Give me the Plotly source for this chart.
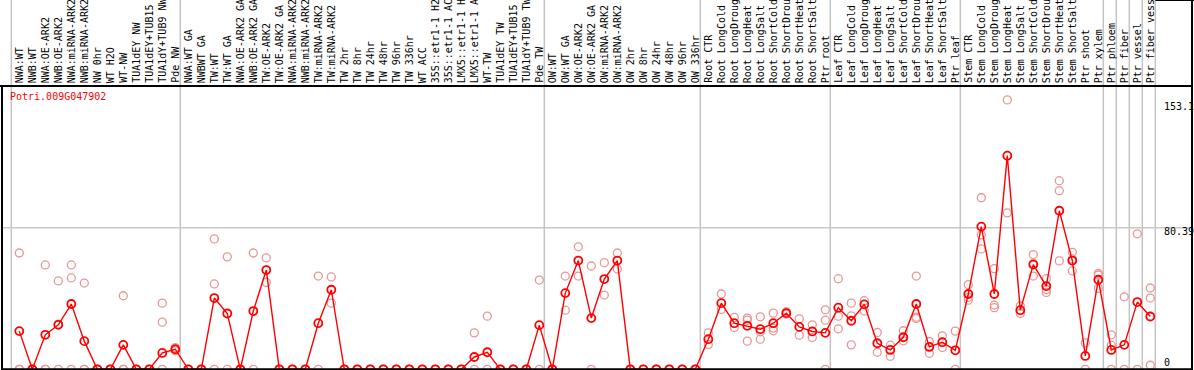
import plotly.graph_objects as go

# ---------------- data ----------------
gene_id = "Potri.009G047902"

categories = [
    "NWA:WT", "NWB:WT", "NWA:OE-ARK2", "NWB:OE-ARK2", "NWA:miRNA-ARK2", "NWB:miRNA-ARK2",
    "NW 0hr", "WT H2O", "WT-NW", "TUA1dEY NW", "TUA1dEY+TUB15 NW", "TUA1dY+TUB9 NW", "Pde NW",
    "NWA:WT GA", "NWBWT GA", "TW:WT", "TW:WT GA", "NWA:OE-ARK2 GA", "NWB:OE-ARK2 GA",
    "TW:OE-ARK2", "TW:OE-ARK2 GA", "NWA:miRNA-ARK2 GA", "NWB:miRNA-ARK2 GA", "TW:miRNA-ARK2",
    "TW:miRNA-ARK2 GA", "TW 2hr", "TW 8hr", "TW 24hr", "TW 48hr", "TW 96hr", "TW 336hr",
    "WT ACC", "35S::etr1-1 H2O", "35S::etr1-1 ACC", "LMX5::etr1-1 H2O", "LMX5::etr1-1 ACC",
    "WT-TW", "TUA1dEY TW", "TUA1dEY+TUB15 TW", "TUA1dY+TUB9 TW", "Pde TW",
    "OW:WT", "OW:WT GA", "OW:OE-ARK2", "OW:OE-ARK2 GA", "OW:miRNA-ARK2", "OW:miRNA-ARK2 GA",
    "OW 2hr", "OW 8hr", "OW 24hr", "OW 48hr", "OW 96hr", "OW 336hr",
    "Root CTR", "Root LongCold", "Root LongDrought", "Root LongHeat", "Root LongSalt",
    "Root ShortCold", "Root ShortDrought", "Root ShortHeat", "Root ShortSalt", "Ptr root",
    "Leaf CTR", "Leaf LongCold", "Leaf LongDrought", "Leaf LongHeat", "Leaf LongSalt",
    "Leaf ShortCold", "Leaf ShortDrought", "Leaf ShortHeat", "Leaf ShortSalt", "Ptr leaf",
    "Stem CTR", "Stem LongCold", "Stem LongDrought", "Stem LongHeat", "Stem LongSalt",
    "Stem ShortCold", "Stem ShortDrought", "Stem ShortHeat", "Stem ShortSalt", "Ptr shoot",
    "Ptr xylem", "Ptr phloem", "Ptr fiber", "Ptr vessel", "Ptr fiber vessel",
]

mean_values = [
    21.7, 0, 19.6, 25.3, 37.1, 16.0, 0, 0, 13.9, 0, 0, 9.3, 11.4,
    0, 0, 40.5, 31.7, 0, 33.1, 56.4, 0, 0, 0, 26.2, 45.2, 0, 0, 0, 0, 0, 0,
    0, 0, 0, 0, 7.0, 9.7, 0, 0, 0, 25.1,
    0, 43.3, 61.8, 29.1, 51.3, 61.8, 0, 0, 0, 0, 0, 0,
    17.1, 37.6, 26.2, 24.7, 22.8, 26.2, 31.9, 24.1, 21.5, 20.7,
    35.0, 27.6, 36.9, 14.8, 11.0, 18.2, 37.1, 12.7, 15.4, 10.8,
    42.8, 81.1, 42.8, 121.4, 33.6, 59.5, 47.3, 90.1, 61.8, 7.6,
    50.9, 11.0, 13.9, 38.2, 30.0,
]

replicate_values = [
    [66.1, 0, 0], [0, 0, 0], [59.3, 0, 0], [50.2, 25.7, 0], [59.3, 51.9, 0], [49.0, 0, 0],
    [0, 0, 0], [0, 0, 0], [41.8, 0, 0], [0, 0, 0], [0, 0, 0], [37.6, 26.8, 0], [12.3, 10.5],
    [0, 0], [0, 0], [74.1, 48.5, 0], [63.9, 0], [0, 0], [66.1, 0], [63.3, 49.4],
    [0, 0], [0, 0], [0, 0], [53.0, 0], [52.5, 37.6], [0, 0], [0, 0], [0, 0], [0, 0], [0, 0], [0, 0],
    [0, 0], [0, 0], [0, 0], [0, 0], [20.7, 0], [30.2, 0], [0, 0], [0, 0], [0, 0], [50.7, 0],
    [0, 0], [53.0, 33.6], [69.6, 53.0], [58.7, 0], [60.6, 42.2], [66.1, 57.0],
    [0, 0], [0, 0], [0, 0], [0, 0], [0, 0], [0, 0],
    [20.7, 14.1], [42.8, 34.0], [29.5, 23.8], [29.1, 27.9, 16.0], [29.8, 21.3, 17.1],
    [31.9, 23.4, 21.9], [32.7, 31.4], [28.7, 19.4], [25.3, 18.1], [33.8, 27.9, 0],
    [51.5, 30.2, 23.0], [37.6, 30.4, 13.9], [39.0, 33.1], [20.9, 9.7], [13.7, 7.4],
    [21.9, 16.2], [53.0, 29.6, 28.9], [15.8, 9.1], [19.0, 12.4], [21.7, 0],
    [48.1, 40.9, 39.3], [97.5, 76.4, 68.4], [57.2, 36.5, 35.0], [153.1, 88.9], [36.1, 31.7],
    [65.2, 60.3, 53.0], [51.5, 45.2, 43.7], [107.2, 101.5, 61.6], [66.5, 62.7, 55.9], [15.0, 0],
    [54.5, 53.6, 46.0], [19.6, 13.7, 0], [41.2, 0], [77.0, 0], [46.2, 40.5, 2.3],
]

group_sizes = [13, 28, 12, 10, 10, 11, 1, 1, 1, 1]

tick_values = [153.1, 80.39, 0]
tick_labels = ["153.1", "80.39", "0"]
grid_values = [80.39]

# ---------------- figure ----------------
W, H = 1194, 370
ML, MR, MT, MB = 2, 2, 86, 0
plot_w = W - ML - MR
plot_h = H - MT - MB
x_lo = (ML - 19.3) / 13.0
x_hi = (W - MR - 19.3) / 13.0
y_lo, y_hi = -0.4, 161.0
top_paper = 1 + MT / plot_h

def to_paper_x(d):
    return (d - x_lo) / (x_hi - x_lo)

idx = list(range(len(categories)))
rep_x, rep_y = [], []
for i, reps in enumerate(replicate_values):
    for v in reps:
        rep_x.append(i)
        rep_y.append(v)

fig = go.Figure()
fig.add_trace(go.Scatter(
    x=rep_x, y=rep_y, mode="markers", cliponaxis=False,
    marker=dict(symbol="circle-open", size=8, color="rgb(234,150,150)",
                line=dict(width=1.3, color="rgb(234,150,150)")),
    hoverinfo="skip", showlegend=False,
))
fig.add_trace(go.Scatter(
    x=idx, y=mean_values, mode="lines+markers", cliponaxis=False,
    line=dict(color="#ff0000", width=1.4),
    marker=dict(symbol="circle-open", size=8, color="#ff0000",
                line=dict(width=1.8, color="#ff0000")),
    text=categories, hovertemplate="%{text}: %{y}<extra></extra>", showlegend=False,
))

shapes = []
# group separators
bounds = [0]
for g in group_sizes:
    bounds.append(bounds[-1] + g)
for b in bounds:
    px = to_paper_x(b - 0.615)
    shapes.append(dict(type="line", xref="paper", yref="paper", x0=px, x1=px,
                       y0=0, y1=top_paper, line=dict(color="#c4c4c4", width=1.5), layer="below"))
# horizontal grid
for gv in grid_values:
    shapes.append(dict(type="line", xref="paper", yref="y", x0=0, x1=1, y0=gv, y1=gv,
                       line=dict(color="#c8c8c8", width=1.5), layer="below"))
# frame
shapes.append(dict(type="line", xref="paper", yref="y", x0=0, x1=1, y0=0, y1=0,
                   line=dict(color="black", width=2)))
shapes.append(dict(type="line", xref="paper", yref="paper", x0=0, x1=0, y0=0, y1=1,
                   line=dict(color="black", width=2)))
shapes.append(dict(type="line", xref="paper", yref="paper", x0=-0.002, x1=1, y0=1, y1=1,
                   line=dict(color="black", width=2)))
shapes.append(dict(type="line", xref="paper", yref="paper", x0=1, x1=1, y0=0, y1=top_paper,
                   line=dict(color="black", width=2)))
shapes.append(dict(type="line", xref="paper", yref="paper", x0=to_paper_x(87.385), x1=1.002,
                   y0=top_paper, y1=top_paper, line=dict(color="black", width=2)))

annotations = []
mono = "DejaVu Sans Mono"
for i, lab in enumerate(categories):
    annotations.append(dict(x=i, xref="x", y=1 + 2 / plot_h, yref="paper",
                            text=lab, textangle=-90, showarrow=False,
                            xanchor="center", yanchor="bottom",
                            font=dict(family=mono, size=10, color="black"),
                            borderpad=0))
annotations.append(dict(x=(9.3 - ML) / plot_w, xref="paper", y=(H - 97) / plot_h, yref="paper",
                        text=gene_id, showarrow=False, xanchor="left", yanchor="middle",
                        font=dict(family=mono, size=10, color="#ff0000"), borderpad=0))
shifts = [-7, -4, 7]
for tv, tl, sh in zip(tick_values, tick_labels, shifts):
    annotations.append(dict(x=(1163 - ML) / plot_w, xref="paper", y=tv, yref="y",
                            text=tl, showarrow=False, xanchor="left", yanchor="middle",
                            yshift=sh, font=dict(family=mono, size=10, color="black"),
                            borderpad=0))

fig.update_layout(
    width=W, height=H,
    margin=dict(l=ML, r=MR, t=MT, b=MB, pad=0),
    paper_bgcolor="white", plot_bgcolor="white",
    xaxis=dict(range=[x_lo, x_hi], visible=False, showgrid=False, zeroline=False),
    yaxis=dict(range=[y_lo, y_hi], visible=False, showgrid=False, zeroline=False),
    shapes=shapes, annotations=annotations, showlegend=False,
)

fig.write_html(
    "out.html",
    config={"displayModeBar": False},
    post_script="document.body.style.margin='0';document.body.style.overflow='hidden';",
)
